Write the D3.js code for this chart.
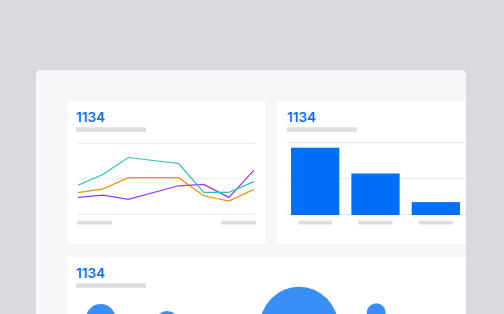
<!DOCTYPE html>
<html>
<head>
<meta charset="utf-8">
<script src="https://cdn.jsdelivr.net/npm/d3@7"></script>
<style>
  html, body { margin: 0; padding: 0; background: #d9dadf; }
  svg { display: block; }
  .kpi { font-family: Inter, "Noto Sans", sans-serif; font-weight: 600; font-size: 13.5px; fill: #0d6ff5; }
</style>
</head>
<body>
<div id="chart"></div>
<script>
// ---- data ----
var kpiValues = ["1134", "1134", "1134"];

// line card
var lineX = [0, 1, 2, 4, 5, 6, 7];
var tealValues = [40.6, 56.3, 79.9, 71.4, 30.6, 30.6, 45.8];
var orangeValues = [30.3, 35.6, 51.4, 51.4, 25.8, 18.3, 34.8];
var purpleValues = [23.5, 26.8, 20.7, 39.9, 41.8, 23.5, 62];
var gridValues = [0, 50, 100];

// bar card
var barCategories = ["a", "b", "c"];
var barValues = [93, 57, 17];

// bubble card
var bubbleX = [6.5, 24, 58.7, 79];
var bubbleY = [55, 35, 21.5, 86];
var bubbleSize = [14, 9, 95, 5.6];

var svgWidth = 504;
var svgHeight = 314;

var svg = d3.select("#chart")
  .append("svg")
  .attr("width", svgWidth)
  .attr("height", svgHeight);

svg.append("rect")
  .attr("width", svgWidth)
  .attr("height", svgHeight)
  .attr("fill", "#d9dadf");

// panel, clipped on the right and bottom
svg.append("clipPath")
  .attr("id", "panelClip")
  .append("rect")
  .attr("x", 36).attr("y", 70)
  .attr("width", 430).attr("height", 260)
  .attr("rx", 5);

var panel = svg.append("g").attr("clip-path", "url(#panelClip)");

panel.append("rect")
  .attr("x", 36).attr("y", 70)
  .attr("width", 430).attr("height", 260)
  .attr("fill", "#f6f7f9");

function card(x, y, w, h, label, pad) {
  var g = panel.append("g");
  g.append("rect")
    .attr("x", x).attr("y", y)
    .attr("width", w).attr("height", h)
    .attr("fill", "#ffffff");
  g.append("text")
    .attr("class", "kpi")
    .attr("x", x + pad)
    .attr("y", y + 20.6)
    .text(label);
  g.append("rect")
    .attr("x", x + pad).attr("y", y + 26.3)
    .attr("width", 70).attr("height", 4.5)
    .attr("fill", "#dddddd");
  return g;
}

// ---- card 1: lines ----
var c1 = card(68, 101, 198, 143, kpiValues[0], 8);

var xLine = d3.scaleLinear().domain([0, 7]).range([78, 254]);
var yLine = d3.scaleLinear().domain([0, 100]).range([214, 143.3]);

c1.selectAll(".grid")
  .data(gridValues)
  .enter()
  .append("line")
  .attr("x1", 77).attr("x2", 255)
  .attr("y1", d => yLine(d)).attr("y2", d => yLine(d))
  .attr("stroke", d => d === 0 ? "#e4e4e4" : "#ececec")
  .attr("stroke-width", 1);

c1.selectAll(".xlab")
  .data([0, 7])
  .enter()
  .append("rect")
  .attr("x", (d, i) => i === 0 ? xLine(d) - 1 : xLine(d) - 33)
  .attr("y", 220.7)
  .attr("width", 35).attr("height", 3.8)
  .attr("fill", "#dddddd");

var line = d3.line()
  .x((d, i) => xLine(lineX[i]))
  .y(d => yLine(d));

var series = [
  { values: orangeValues, color: "#e9950f" },
  { values: purpleValues, color: "#9b35f7" },
  { values: tealValues, color: "#2dc2b4" }
];

c1.selectAll(".series")
  .data(series)
  .enter()
  .append("path")
  .attr("d", d => line(d.values))
  .attr("fill", "none")
  .attr("stroke", d => d.color)
  .attr("stroke-width", 1.2);

// ---- card 2: bars ----
var c2 = card(277, 101, 198, 143, kpiValues[1], 10);

var xBar = d3.scaleBand()
  .domain(barCategories)
  .range([285, 466])
  .paddingInner(0.2)
  .paddingOuter(0.1);
var yBar = d3.scaleLinear().domain([0, 100]).range([214.3, 142.7]);

c2.selectAll(".grid")
  .data(gridValues)
  .enter()
  .append("line")
  .attr("x1", 287).attr("x2", 475)
  .attr("y1", d => yBar(d)).attr("y2", d => yBar(d))
  .attr("stroke", d => d === 0 ? "#e4e4e4" : "#ececec")
  .attr("stroke-width", 1);

c2.selectAll(".bar")
  .data(barValues)
  .enter()
  .append("rect")
  .attr("x", (d, i) => xBar(barCategories[i]))
  .attr("y", d => yBar(d))
  .attr("width", xBar.bandwidth())
  .attr("height", d => yBar(0) + 0.7 - yBar(d))
  .attr("fill", "#006ff7");

c2.selectAll(".xlab")
  .data(barCategories)
  .enter()
  .append("rect")
  .attr("x", d => xBar(d) + xBar.bandwidth() / 2 - 17)
  .attr("y", 220.7)
  .attr("width", 34).attr("height", 3.8)
  .attr("fill", "#dddddd");

// ---- card 3: bubbles ----
var c3 = card(68, 257, 420, 120, kpiValues[2], 8);

var xBub = d3.scaleLinear().domain([0, 100]).range([76, 456]);
var yBub = d3.scaleLinear().domain([0, 100]).range([330, 310]);
var rBub = d3.scaleSqrt().domain([0, 100]).range([0, 40]);

c3.selectAll(".bubble")
  .data(bubbleSize)
  .enter()
  .append("circle")
  .attr("cx", (d, i) => xBub(bubbleX[i]))
  .attr("cy", (d, i) => yBub(bubbleY[i]))
  .attr("r", d => rBub(d))
  .attr("fill", "#3a8ff6");
</script>
</body>
</html>
